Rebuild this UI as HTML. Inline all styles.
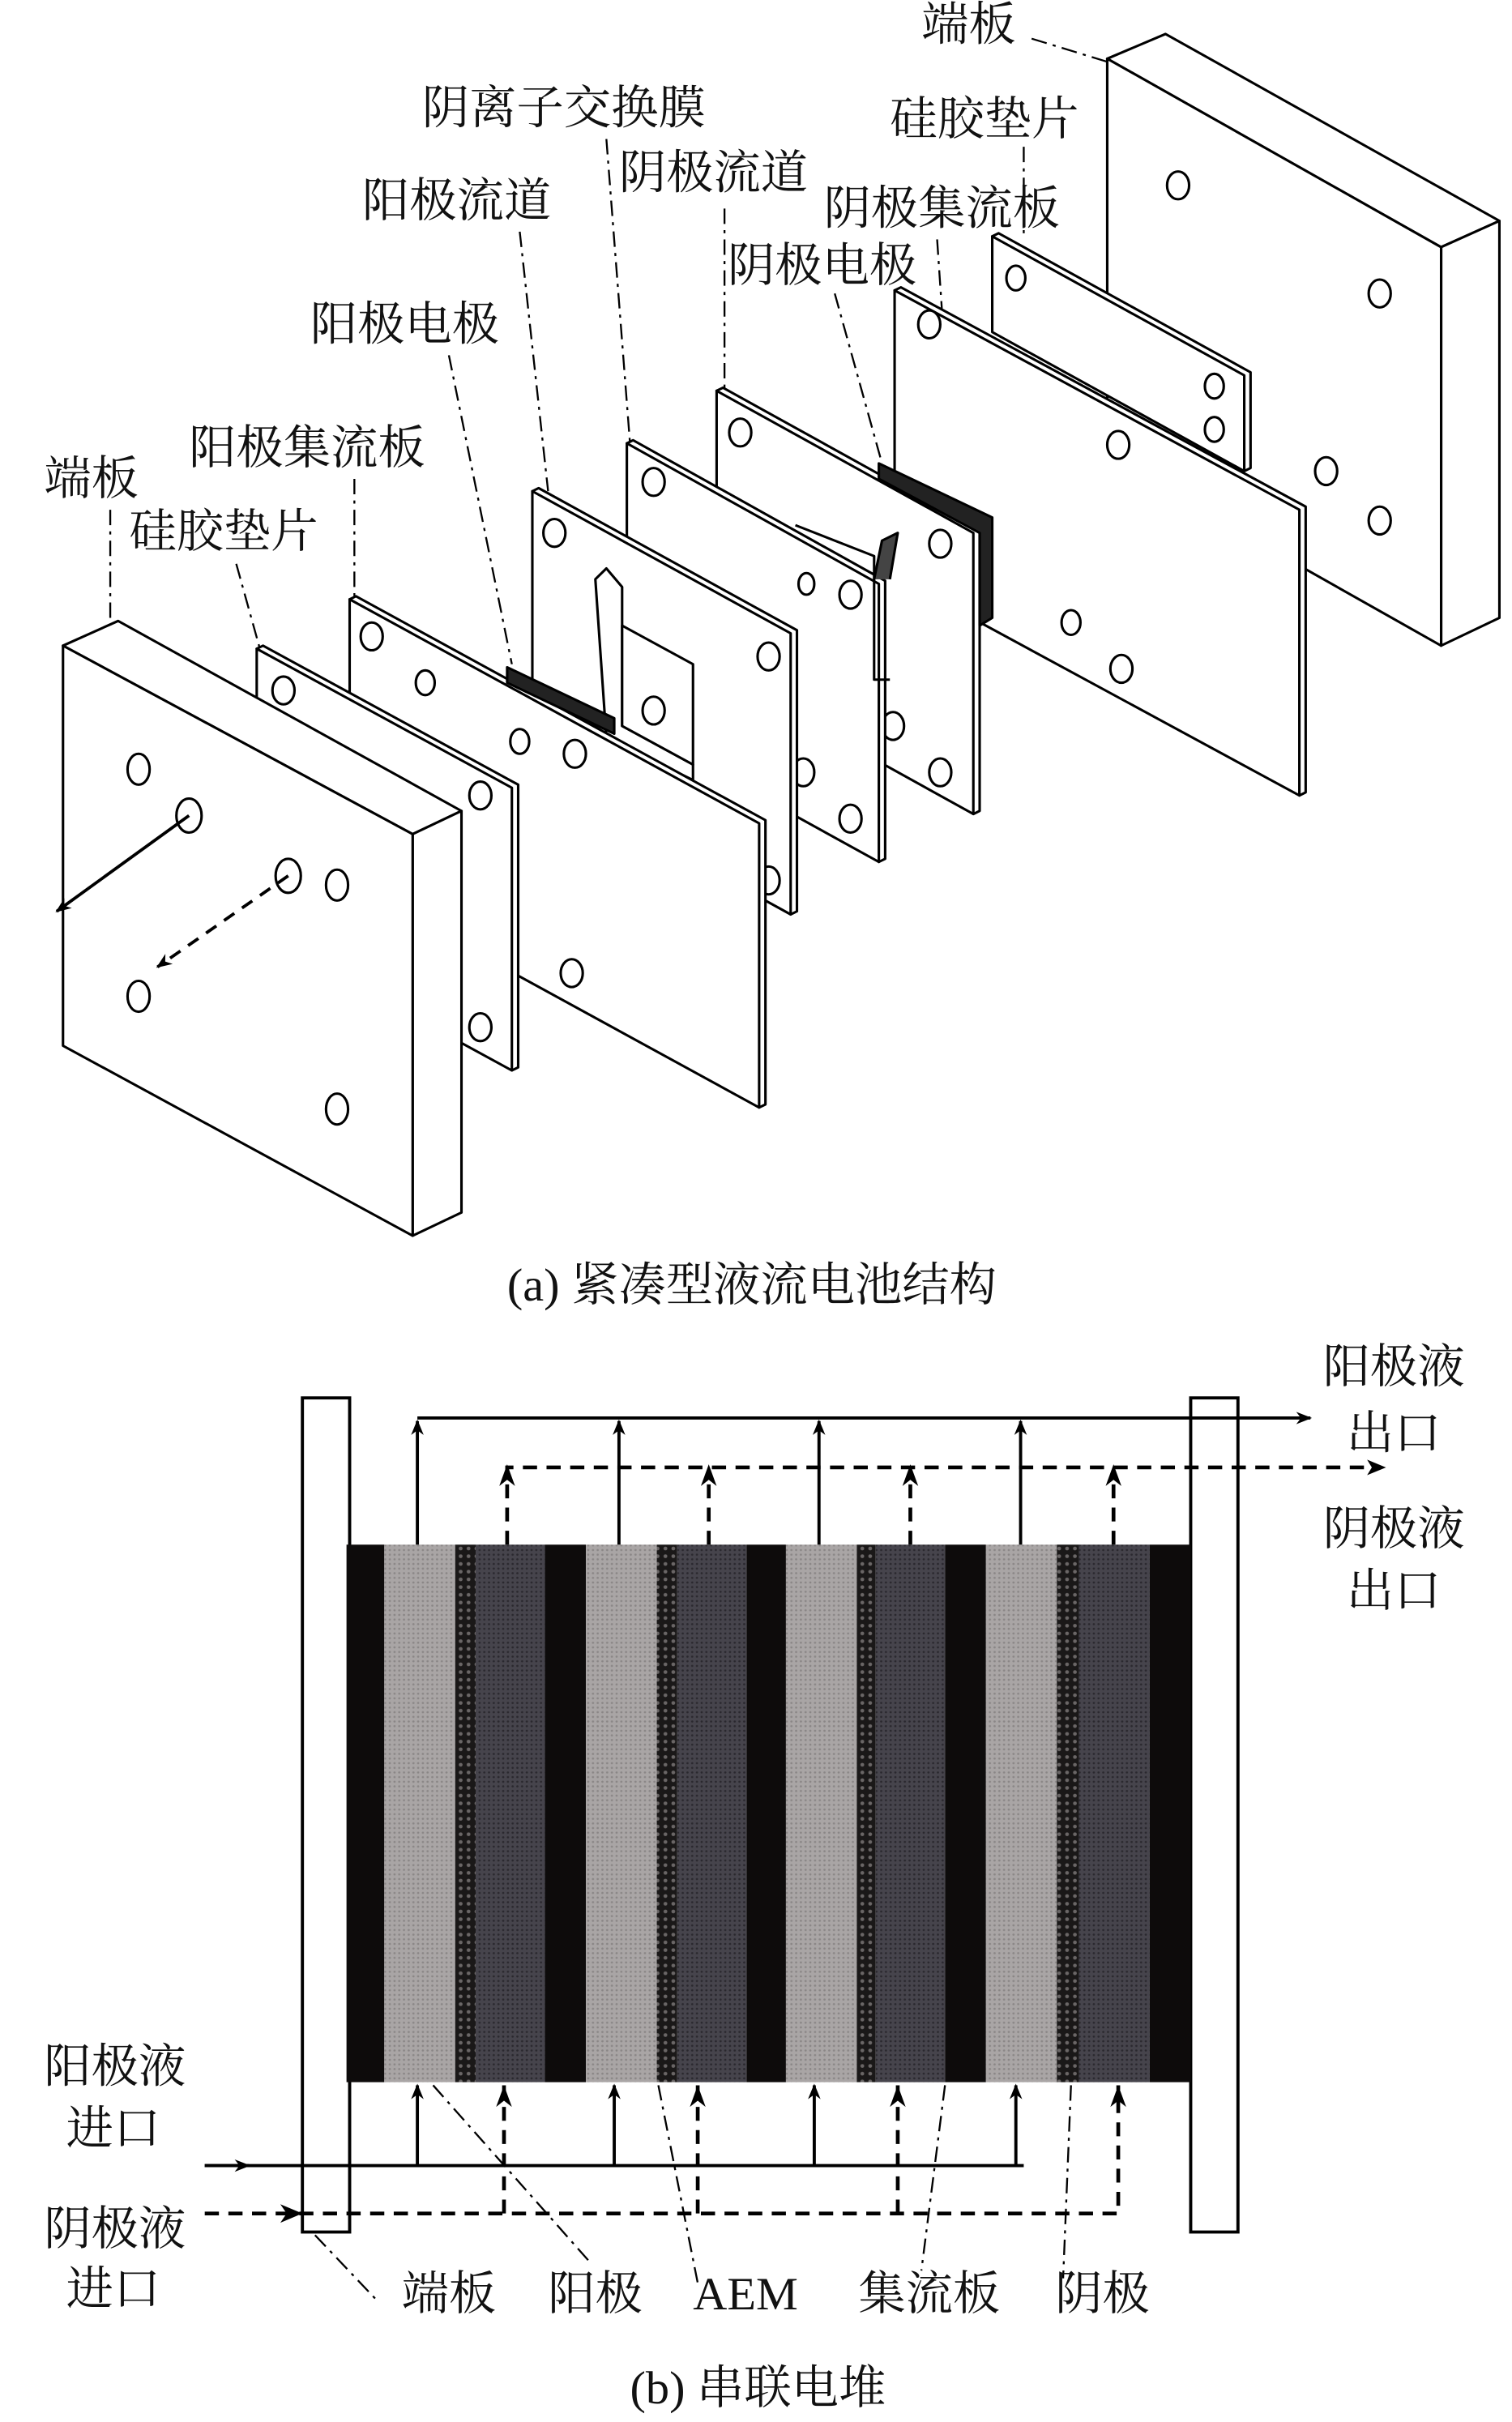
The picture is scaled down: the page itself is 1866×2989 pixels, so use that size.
<!DOCTYPE html>
<html><head><meta charset="utf-8"><style>
html,body{margin:0;padding:0;background:#fff;}
svg{display:block}
text{font-family:"Liberation Serif","Noto Serif CJK SC","Noto Sans CJK SC",serif;fill:#111;font-size:30px}
</style></head><body>
<svg width="1866" height="2989" viewBox="0 0 960 1568" preserveAspectRatio="none" xmlns="http://www.w3.org/2000/svg">
<defs>
<pattern id="gr" width="3" height="3" patternUnits="userSpaceOnUse"><rect width="3" height="3" fill="#a9a5a5"/><circle cx="1.5" cy="1.5" r="0.7" fill="#8a8686"/></pattern>
<pattern id="dk" width="3" height="3" patternUnits="userSpaceOnUse"><rect width="3" height="3" fill="#46444c"/><circle cx="1.5" cy="1.5" r="0.7" fill="#2a282e"/></pattern>
<pattern id="ae" width="5" height="5" patternUnits="userSpaceOnUse"><rect width="5" height="5" fill="#1a1818"/><circle cx="2.5" cy="2.5" r="1.2" fill="#6a6666"/></pattern>
<marker id="ah" markerWidth="10" markerHeight="10" refX="9" refY="5" orient="auto" markerUnits="userSpaceOnUse"><path d="M0,1 L10,5 L0,9 L3,5 Z" fill="#000"/></marker>
</defs>
<g fill="#fff" stroke="#000" stroke-width="1.6" stroke-linejoin="round">
<!-- right end plate -->
<polygon points="703,38 740,22 952,143 915,160"/>
<polygon points="915,160 952,143 952,400 915,418"/>
<polygon points="703,38 915,160 915,418 703,296"/>
<ellipse cx="748" cy="120" rx="7" ry="9"/><ellipse cx="876" cy="190" rx="7" ry="9"/><ellipse cx="842" cy="305" rx="7" ry="9"/><ellipse cx="876" cy="337" rx="7" ry="9"/>
<!-- gasket R -->
<polygon points="630,153 634,151 794,241 794,303 790,305"/>
<polygon points="630,153 790,243 790,305 630,215"/>
<ellipse cx="645" cy="180" rx="6" ry="8"/><ellipse cx="771" cy="250" rx="6" ry="8"/><ellipse cx="771" cy="278" rx="6" ry="8"/>
<!-- cathode collector -->
<polygon points="568,188 572,186 829,328 829,513 825,515"/>
<polygon points="568,188 825,330 825,515 568,373"/>
<ellipse cx="590" cy="210" rx="7" ry="9"/><ellipse cx="710" cy="288" rx="7" ry="9"/><ellipse cx="680" cy="403" rx="6" ry="8"/><ellipse cx="712" cy="433" rx="7" ry="9"/>
<!-- cathode electrode -->
<polygon points="455,253 459,251 622,343 622,525 618,527"/>
<polygon points="455,253 618,345 618,527 455,435"/>
<polygon points="558,300 630,335 630,400 622,405 622,345 558,310" fill="#222"/>
<ellipse cx="470" cy="280" rx="7" ry="9"/><ellipse cx="597" cy="352" rx="7" ry="9"/><ellipse cx="567" cy="470" rx="7" ry="9"/><ellipse cx="597" cy="500" rx="7" ry="9"/>
<!-- AEM -->
<polygon points="398,287 402,285 562,376 562,556 558,558"/>
<polygon points="398,287 558,378 558,558 398,468"/>
<polyline points="505,340 555,360 555,440 565,440" fill="none"/>
<path d="M555,375 L560,350 L570,345 L565,375" fill="#444"/>
<ellipse cx="415" cy="312" rx="7" ry="9"/><ellipse cx="540" cy="385" rx="7" ry="9"/><ellipse cx="510" cy="500" rx="7" ry="9"/><ellipse cx="540" cy="530" rx="7" ry="9"/><ellipse cx="512" cy="378" rx="5" ry="7"/>
<!-- anode flow -->
<polygon points="338,318 342,316 506,408 506,590 502,592"/>
<polygon points="338,318 502,410 502,592 338,500"/>
<polygon points="378,375 385,368 395,380 395,470 440,495 440,505 385,478"/>
<polygon points="395,405 440,430 440,495 395,470"/>
<ellipse cx="352" cy="345" rx="7" ry="9"/><ellipse cx="488" cy="425" rx="7" ry="9"/><ellipse cx="458" cy="540" rx="7" ry="9"/><ellipse cx="488" cy="570" rx="7" ry="9"/><ellipse cx="415" cy="460" rx="7" ry="9"/>
<!-- anode collector -->
<polygon points="222,388 226,386 486,531 486,715 482,717"/>
<polygon points="222,388 482,533 482,717 222,572"/>
<polygon points="322,432 390,465 390,475 322,442" fill="#222"/>
<ellipse cx="236" cy="412" rx="7" ry="9"/><ellipse cx="270" cy="442" rx="6" ry="8"/><ellipse cx="330" cy="480" rx="6" ry="8"/><ellipse cx="365" cy="488" rx="7" ry="9"/><ellipse cx="363" cy="630" rx="7" ry="9"/>
<!-- gasket L -->
<polygon points="163,420 167,418 329,508 329,691 325,693"/>
<polygon points="163,420 325,510 325,693 163,603"/>
<ellipse cx="180" cy="447" rx="7" ry="9"/><ellipse cx="305" cy="515" rx="7" ry="9"/><ellipse cx="305" cy="665" rx="7" ry="9"/>
<!-- left end plate -->
<polygon points="40,418 75,402 293,525 262,540"/>
<polygon points="262,540 293,525 293,785 262,800"/>
<polygon points="40,418 262,540 262,800 40,677"/>
<ellipse cx="88" cy="498" rx="7" ry="10"/><ellipse cx="120" cy="528" rx="8" ry="11"/><ellipse cx="183" cy="567" rx="8" ry="11"/><ellipse cx="214" cy="573" rx="7" ry="10"/><ellipse cx="88" cy="645" rx="7" ry="10"/><ellipse cx="214" cy="718" rx="7" ry="10"/>
</g>
<line x1="120" y1="528" x2="36" y2="590" stroke="#000" stroke-width="2" marker-end="url(#ah)"/>
<line x1="183" y1="567" x2="100" y2="626" stroke="#000" stroke-width="2" stroke-dasharray="8,6" marker-end="url(#ah)"/>
<!-- leaders (a) -->
<g stroke="#000" stroke-width="1.2" fill="none" stroke-dasharray="10,4,2,4">
<line x1="70" y1="330" x2="70" y2="405"/>
<line x1="150" y1="365" x2="165" y2="420"/>
<line x1="225" y1="310" x2="225" y2="388"/>
<line x1="285" y1="230" x2="325" y2="430"/>
<line x1="330" y1="150" x2="348" y2="318"/>
<line x1="385" y1="90" x2="400" y2="287"/>
<line x1="460" y1="135" x2="460" y2="253"/>
<line x1="530" y1="190" x2="560" y2="300"/>
<line x1="595" y1="155" x2="598" y2="200"/>
<line x1="650" y1="95" x2="650" y2="153"/>
<line x1="655" y1="25" x2="703" y2="40"/>
</g>
<text x="28" y="320">端板</text>
<text x="82" y="354">硅胶垫片</text>
<text x="120" y="300">阳极集流板</text>
<text x="197" y="220">阳极电极</text>
<text x="230" y="140">阳极流道</text>
<text x="268" y="80">阴离子交换膜</text>
<text x="393" y="122">阴极流道</text>
<text x="462" y="182">阴极电极</text>
<text x="523" y="145">阴极集流板</text>
<text x="565" y="87">硅胶垫片</text>
<text x="585" y="26">端板</text>
<text x="322" y="842">(a) 紧凑型液流电池结构</text>
<!-- part b -->
<rect x="192" y="905" width="30" height="540" fill="#fff" stroke="#000" stroke-width="2"/>
<rect x="756" y="905" width="30" height="540" fill="#fff" stroke="#000" stroke-width="2"/>
<g>
<rect x="220" y="1000" width="24" height="348" fill="#0d0b0b"/>
<rect x="244" y="1000" width="45" height="348" fill="url(#gr)"/>
<rect x="289" y="1000" width="13" height="348" fill="url(#ae)"/>
<rect x="302" y="1000" width="44" height="348" fill="url(#dk)"/>
<rect x="346" y="1000" width="26" height="348" fill="#0d0b0b"/>
<rect x="372" y="1000" width="45" height="348" fill="url(#gr)"/>
<rect x="417" y="1000" width="13" height="348" fill="url(#ae)"/>
<rect x="430" y="1000" width="44" height="348" fill="url(#dk)"/>
<rect x="474" y="1000" width="25" height="348" fill="#0d0b0b"/>
<rect x="499" y="1000" width="45" height="348" fill="url(#gr)"/>
<rect x="544" y="1000" width="12" height="348" fill="url(#ae)"/>
<rect x="556" y="1000" width="44" height="348" fill="url(#dk)"/>
<rect x="600" y="1000" width="26" height="348" fill="#0d0b0b"/>
<rect x="626" y="1000" width="45" height="348" fill="url(#gr)"/>
<rect x="671" y="1000" width="14" height="348" fill="url(#ae)"/>
<rect x="685" y="1000" width="45" height="348" fill="url(#dk)"/>
<rect x="730" y="1000" width="26" height="348" fill="#0d0b0b"/>
</g>
<g stroke="#000" stroke-width="2" fill="none">
<line x1="265" y1="918" x2="832" y2="918" marker-end="url(#ah)"/>
<line x1="265" y1="1000" x2="265" y2="920" marker-end="url(#ah)"/>
<line x1="393" y1="1000" x2="393" y2="920" marker-end="url(#ah)"/>
<line x1="520" y1="1000" x2="520" y2="920" marker-end="url(#ah)"/>
<line x1="648" y1="1000" x2="648" y2="920" marker-end="url(#ah)"/>
<line x1="130" y1="1402" x2="650" y2="1402"/>
<line x1="130" y1="1402" x2="158" y2="1402" marker-end="url(#ah)"/>
<line x1="265" y1="1402" x2="265" y2="1350" marker-end="url(#ah)"/>
<line x1="390" y1="1402" x2="390" y2="1350" marker-end="url(#ah)"/>
<line x1="517" y1="1402" x2="517" y2="1350" marker-end="url(#ah)"/>
<line x1="645" y1="1402" x2="645" y2="1350" marker-end="url(#ah)"/>
</g>
<g stroke="#000" stroke-width="2.4" fill="none" stroke-dasharray="9,6">
<polyline points="322,1000 322,950 870,950"/>
<line x1="450" y1="1000" x2="450" y2="952"/>
<line x1="578" y1="1000" x2="578" y2="952"/>
<line x1="707" y1="1000" x2="707" y2="952"/>
<polyline points="130,1433 710,1433 710,1350"/>
<polyline points="320,1433 320,1350"/>
<line x1="443" y1="1433" x2="443" y2="1350"/>
<line x1="570" y1="1433" x2="570" y2="1350"/>
</g>
<g fill="#000">
<path d="M880,950 L868,945 L871,950 L868,955Z"/>
<path d="M322,948 L317,962 L322,958 L327,962Z"/><path d="M450,948 L445,962 L450,958 L455,962Z"/><path d="M578,948 L573,962 L578,958 L583,962Z"/><path d="M707,948 L702,962 L707,958 L712,962Z"/>
<path d="M320,1350 L315,1364 L320,1360 L325,1364Z"/><path d="M443,1350 L438,1364 L443,1360 L448,1364Z"/><path d="M570,1350 L565,1364 L570,1360 L575,1364Z"/><path d="M710,1350 L705,1364 L710,1360 L715,1364Z"/>
<path d="M192,1433 L178,1427 L182,1433 L178,1439Z"/>
</g>
<g stroke="#000" stroke-width="1.2" fill="none" stroke-dasharray="10,4,2,4">
<line x1="200" y1="1447" x2="240" y2="1490"/>
<line x1="275" y1="1350" x2="375" y2="1465"/>
<line x1="418" y1="1350" x2="443" y2="1478"/>
<line x1="600" y1="1350" x2="585" y2="1470"/>
<line x1="680" y1="1350" x2="675" y2="1475"/>
</g>
<text x="840" y="895">阳极液</text>
<text x="855" y="938">出口</text>
<text x="840" y="1000">阴极液</text>
<text x="855" y="1040">出口</text>
<text x="28" y="1348">阳极液</text>
<text x="42" y="1388">进口</text>
<text x="28" y="1453">阴极液</text>
<text x="42" y="1492">进口</text>
<text x="255" y="1495">端板</text>
<text x="348" y="1495">阳极</text>
<text x="440" y="1495">AEM</text>
<text x="545" y="1495">集流板</text>
<text x="670" y="1495">阴极</text>
<text x="400" y="1556">(b) 串联电堆</text>
</svg>
</body></html>
